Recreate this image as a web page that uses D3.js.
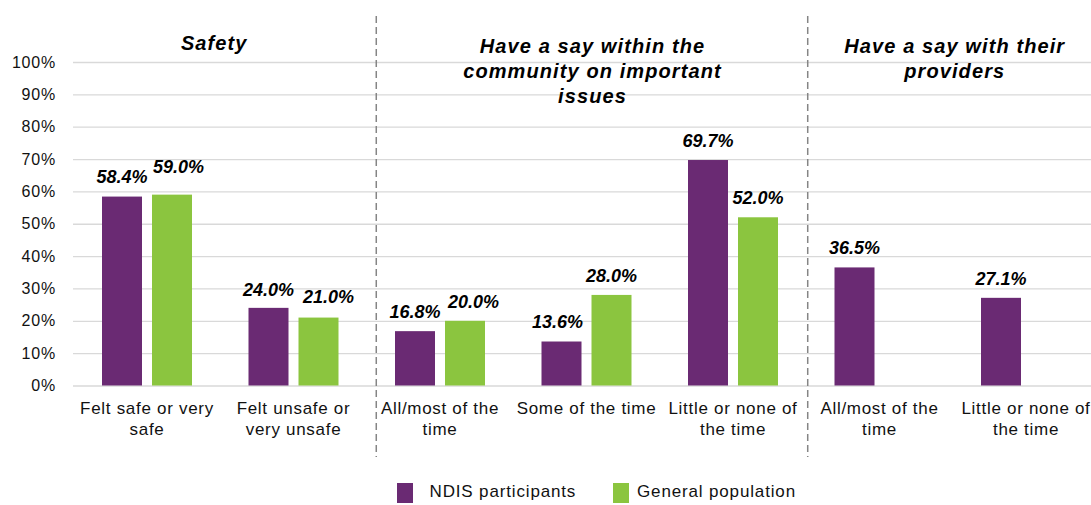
<!DOCTYPE html>
<html>
<head>
<meta charset="utf-8">
<script src="https://cdn.jsdelivr.net/npm/d3@7"></script>
<style>
  html, body { margin: 0; padding: 0; background: #fff; }
  svg { display: block; font-family: "Liberation Sans", Arial, sans-serif; }
</style>
</head>
<body>
<svg id="chart" width="1091" height="505"></svg>
<script>
// Category labels (line breaks mark where each label wraps)
const categories = [
  "Felt safe or very\nsafe",
  "Felt unsafe or\nvery unsafe",
  "All/most of the\ntime",
  "Some of the time",
  "Little or none of\nthe time",
  "All/most of the\ntime ",
  "Little or none of\nthe time "
];
const series = ["NDIS participants", "General population"];
const ndisValues = [0.584, 0.240, 0.168, 0.136, 0.697, 0.365, 0.271];
const generalValues = [0.590, 0.210, 0.200, 0.280, 0.520, null, null];
const yTicks = [0, 0.1, 0.2, 0.3, 0.4, 0.5, 0.6, 0.7, 0.8, 0.9, 1.0];

// Section headings and the categories each one spans
const sectionTitles = [
  ["Safety"],
  ["Have a say within the", "community on important", "issues"],
  ["Have a say with their", "providers"]
];
const sectionSpans = [[0, 1], [2, 4], [5, 6]];

const colors = { "NDIS participants": "#6A2A73", "General population": "#8BC53F" };

const svg = d3.select("#chart");

// Scales
const x0 = d3.scaleBand().domain(categories).range([73.75, 1099.25]).padding(0);
const x1 = d3.scaleBand().domain(series)
  .range([x0.bandwidth() / 2 - 45, x0.bandwidth() / 2 + 45])
  .paddingInner(0.2).paddingOuter(0);
const y = d3.scaleLinear().domain([0, 1]).range([385.5, 62]);

// Gridlines and percentage ticks
const yAxis = d3.axisLeft(y)
  .tickValues(yTicks)
  .tickFormat(d3.format(".0%"))
  .tickSizeInner(-(1099 - 73))
  .tickSizeOuter(0)
  .tickPadding(17);

const gy = svg.append("g").attr("transform", "translate(73,0)").call(yAxis);
gy.select(".domain").remove();
gy.selectAll(".tick line").attr("stroke", "#d9d9d9").attr("stroke-width", 1.3);
gy.selectAll(".tick text")
  .attr("fill", "#111")
  .style("font-size", "16px")
  .style("letter-spacing", "0.8px");

// Section dividers (positions in band units from the left of the plot)
const dividerAt = [2.065, 5.01];
svg.append("g").selectAll("line")
  .data(dividerAt)
  .join("line")
  .attr("x1", d => x0.range()[0] + d * x0.step())
  .attr("x2", d => x0.range()[0] + d * x0.step())
  .attr("y1", 16)
  .attr("y2", 457)
  .attr("stroke", "#858585")
  .attr("stroke-width", 1.5)
  .attr("stroke-dasharray", "7,4");

// Bars
const rows = categories.map((c, i) => ({
  category: c,
  values: [
    { key: series[0], value: ndisValues[i] },
    { key: series[1], value: generalValues[i] }
  ].filter(d => d.value != null)
}));

const groups = svg.append("g").selectAll("g")
  .data(rows)
  .join("g")
  .attr("transform", d => `translate(${x0(d.category)},0)`);

groups.selectAll("rect")
  .data(d => d.values)
  .join("rect")
  .attr("x", d => x1(d.key))
  .attr("width", x1.bandwidth())
  .attr("y", d => y(d.value))
  .attr("height", d => y(0) - y(d.value))
  .attr("fill", d => colors[d.key]);

// Value labels, with a few hand-nudged to avoid crowding
const labelNudge = {
  "0|General population": [6.5, -8],
  "1|NDIS participants": [0, 1.5],
  "1|General population": [10, -1],
  "2|General population": [8.5, 0],
  "3|NDIS participants": [-4, 0]
};
groups.each(function (row, i) {
  d3.select(this).selectAll("text.val")
    .data(row.values)
    .join("text")
    .attr("class", "val")
    .attr("x", d => x1(d.key) + x1.bandwidth() / 2 + ((labelNudge[i + "|" + d.key] || [0, 0])[0]))
    .attr("y", d => y(d.value) - 13.3 + ((labelNudge[i + "|" + d.key] || [0, 0])[1]))
    .attr("text-anchor", "middle")
    .attr("fill", "#000")
    .style("font-size", "18px")
    .style("font-weight", "bold")
    .style("font-style", "italic")
    .text(d => d3.format(".1%")(d.value));
});

// Category axis
const xAxis = d3.axisBottom(x0).tickSize(0).tickPadding(0);
const gx = svg.append("g").attr("transform", `translate(0,${y(0)})`).call(xAxis);
gx.select(".domain").remove();
gx.selectAll(".tick text").each(function (d) {
  const t = d3.select(this);
  t.text(null)
    .attr("y", 0)
    .attr("dy", null)
    .attr("fill", "#111")
    .style("font-size", "17px")
    .style("letter-spacing", "0.7px");
  d.trim().split("\n").forEach((line, k) => {
    t.append("tspan").attr("x", 0).attr("y", 28.5 + k * 21).text(line);
  });
});

// Section headings
const titleShift = [[-6, 50], [6, 52.5], [2, 53]];
svg.append("g").selectAll("text")
  .data(sectionTitles)
  .join("text")
  .attr("text-anchor", "middle")
  .attr("fill", "#000")
  .style("font-size", "20px")
  .style("font-weight", "bold")
  .style("font-style", "italic")
  .style("letter-spacing", "1.1px")
  .each(function (lines, i) {
    const [a, b] = sectionSpans[i];
    const cx = (x0(categories[a]) + x0(categories[b]) + x0.bandwidth()) / 2 + titleShift[i][0];
    const t = d3.select(this);
    lines.forEach((line, k) => {
      t.append("tspan").attr("x", cx).attr("y", titleShift[i][1] + k * 25.3).text(line);
    });
  });

// Legend
const legendSwatchX = [0, 216];
const legendTextX = [32.5, 240];
const legend = svg.append("g").attr("transform", "translate(397,483)")
  .selectAll("g")
  .data(series)
  .join("g");
legend.append("rect")
  .attr("x", (d, i) => legendSwatchX[i])
  .attr("width", 16)
  .attr("height", 20)
  .attr("fill", d => colors[d]);
legend.append("text")
  .attr("x", (d, i) => legendTextX[i])
  .attr("y", 13.5)
  .attr("fill", "#111")
  .style("font-size", "17px")
  .style("letter-spacing", "0.85px")
  .text(d => d);
</script>
</body>
</html>
